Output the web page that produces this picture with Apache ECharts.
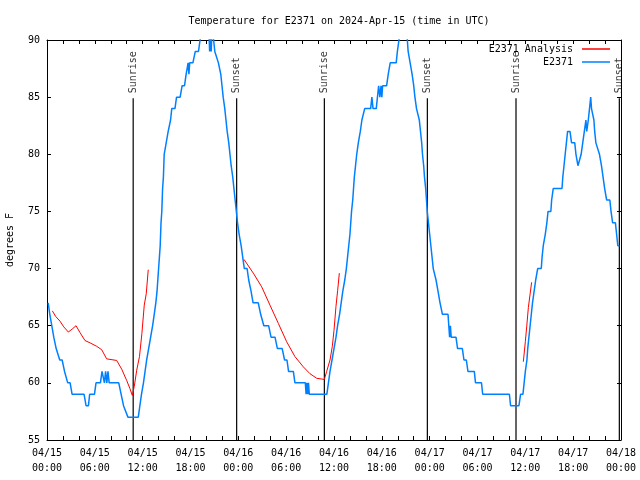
<!DOCTYPE html>
<html><head><meta charset="utf-8">
<script src="https://cdn.jsdelivr.net/npm/echarts@6/dist/echarts.min.js"></script>
<style>html,body{margin:0;padding:0;background:#fff}#c{width:640px;height:480px}</style>
</head><body><div id="c"></div>
<script>
const chartTitle = 'Temperature for E2371 on 2024-Apr-15 (time in UTC)';
const yAxisTitle = 'degrees F';
const startMonth = '04';
const startDay = 15;
const xMin = 0, xMax = 72, xTickStep = 2, xLabelStep = 6;
const yMin = 55, yMax = 90, yTickStep = 5;

// hours since 04/15 00:00 UTC, temperature (F)
const obsName = 'E2371';
const obsData = [
 [0.15,67],[0.35,66],[0.6,65],[0.85,64],[1.15,63],[1.4,63],[1.6,62],[1.9,62],[2.2,61],[2.4,61],[2.6,60],[2.9,60],[3.15,59],
 [4.65,59],[4.9,58],[5.2,58],[5.35,59],[5.95,59],[6.15,60],[6.7,60],[6.9,61],[7.1,61],[7.2,60],[7.35,61],[7.5,60],[7.65,61],[7.8,60],
 [9.0,60],[9.3,59],[9.6,58],[10.15,57],[11.45,57],
 [11.65,58],[11.85,59],[12.1,60],[12.3,61],[12.5,62],[12.75,63],[13.0,64],[13.25,65],[13.45,66],[13.65,67],[13.8,68],[13.9,69],
 [14.0,70],[14.1,71],[14.2,72],[14.3,74],[14.4,75],[14.5,77],[14.6,78],[14.7,80],[14.95,81],[15.2,82],[15.5,83],[15.65,84],[16.05,84],
 [16.25,85],[16.7,85],[16.95,86],[17.25,86],[17.45,87],[17.7,88],[17.8,87],[17.9,88],[18.3,88],[18.6,89],[19.0,89],[19.2,90],[19.4,91],
 [20.3,91],[20.4,89],[20.5,91],[20.6,89],[20.7,91],[20.9,90],[21.05,89],[21.3,89],[21.5,88],[21.7,88],[21.8,87],[21.95,86],[22.1,85],
 [22.3,84],[22.45,83],[22.6,82],[22.8,81],[22.95,80],[23.1,79],[23.3,78],[23.45,77],[23.6,76],[23.75,75],[23.9,74],[24.1,73],[24.35,72],
 [24.55,71],[24.75,70],[25.1,70],[25.3,69],[25.6,68],[25.85,67],[26.5,67],[26.8,66],[27.2,65],[27.8,65],[28.1,64],[28.6,64],[28.9,63],
 [29.5,63],[29.8,62],[30.1,62],[30.3,61],[30.9,61],[31.1,60],[32.4,60],[32.5,59],[32.6,60],[32.7,59],[32.8,60],[32.9,59],[35.1,59],
 [35.3,60],[35.5,61],[35.75,62],[36.0,63],[36.25,64],[36.45,65],[36.7,66],[36.9,67],[37.1,68],[37.35,69],[37.55,70],[37.7,71],[37.85,72],
 [38.0,73],[38.1,74],[38.2,75],[38.35,76],[38.45,77],[38.55,78],[38.7,79],[38.85,80],[39.05,81],[39.3,82],[39.5,83],[39.85,84],[40.6,84],
 [40.75,85],[40.9,84],[41.3,84],[41.45,85],[41.6,86],[41.75,85],[41.9,86],[42.0,85],[42.1,86],[42.6,86],[42.8,87],[43.05,88],[43.8,88],
 [43.95,89],[44.15,90],[44.3,91],[45.1,91],[45.3,89],[45.55,88],[45.8,87],[46.0,86],[46.15,85],[46.35,84],[46.6,84],[46.7,83],[46.85,82],
 [47.0,81],[47.1,80],[47.25,79],[47.35,78],[47.5,77],[47.6,76],[47.7,75],[47.85,74],[48.0,73],[48.15,72],[48.3,71],[48.45,70],[48.65,70],
 [48.8,69],[49.05,68],[49.3,67],[49.6,66],[50.3,66],[50.4,65],[50.5,64],[50.6,65],[50.7,64],[51.3,64],[51.5,63],[52.1,63],[52.3,62],
 [52.6,62],[52.8,61],[53.6,61],[53.75,60],[54.5,60],[54.65,59],[58.0,59],[58.15,58],[59.2,58],[59.4,59],[59.7,59],[59.85,60],[60.0,61],
 [60.2,62],[60.3,63],[60.45,64],[60.6,65],[60.75,66],[60.9,67],[61.1,68],[61.3,69],[61.55,70],[62.0,70],[62.1,71],[62.25,72],[62.5,73],
 [62.7,74],[62.85,75],[63.2,75],[63.3,76],[63.5,77],[64.6,77],[64.7,78],[64.85,79],[65.0,80],[65.15,81],[65.3,82],[65.6,82],[65.8,81],
 [66.2,81],[66.35,80],[66.6,79],[66.8,79],[67.0,80],[67.2,81],[67.4,82],[67.6,83],[67.7,82],[67.9,83],[68.05,84],[68.2,85],[68.3,84],
 [68.45,84],[68.6,83],[68.7,82],[68.85,81],[69.1,81],[69.3,80],[69.55,79],[69.75,78],[69.95,77],[70.2,76],[70.6,76],[70.75,75],[70.95,74],
 [71.3,74],[71.45,73],[71.6,72],[71.8,72]
];

const analysisName = 'E2371 Analysis';
const analysisSeg1 = [
 [0.67,66.3],[1.1,65.8],[1.63,65.4],[2.1,64.9],[2.68,64.45],[3.15,64.7],[3.64,65.0],[4.14,64.4],[4.77,63.7],[5.4,63.5],[6.23,63.2],
 [6.86,62.9],[7.48,62.1],[7.7,62.0],[8.74,61.96],[9.37,61.2],[10.0,60.2],[10.4,59.5],[10.7,58.9],
 [10.95,59.7],[11.25,61.1],[11.6,62.3],[11.9,64.3],[12.2,66.8],[12.45,67.8],[12.7,69.9]
];
const analysisSeg2 = [
 [24.71,70.8],[25.88,69.6],[26.93,68.4],[27.97,66.8],[29.02,65.2],[30.06,63.6],[31.1,62.3],[32.15,61.4],[32.99,60.8],[33.83,60.4],
 [34.79,60.3],[35.08,61.0],[35.5,62.0],[35.79,63.2],[36.0,64.6],[36.25,66.7],[36.46,68.1],[36.67,69.6]
];
const analysisSeg3 = [
 [59.75,61.85],[60.0,63.6],[60.17,64.9],[60.38,66.6],[60.79,68.8]
];

const sunHours = [10.81, 23.79, 34.79, 47.71, 58.83, 71.79];
const sunNames = ['Sunrise', 'Sunset', 'Sunrise', 'Sunset', 'Sunrise', 'Sunset'];
const sunLineTop = 84.9;

const FONT = 'DejaVu Sans Mono';
const pad2 = n => (n < 10 ? '0' : '') + n;

const analysisData = [].concat(analysisSeg1, [[13, null]], analysisSeg2, [[37, null]], analysisSeg3);
const sunLineData = [];
sunHours.forEach(h => { sunLineData.push([h, yMin], [h, sunLineTop], [h, null]); });
const sunLabelData = sunHours.map((h, i) => ({ value: [h, sunLineTop], name: sunNames[i] }));

function xLabel(v) {
  if (Math.round(v) % xLabelStep !== 0) return '';
  const day = startDay + Math.floor(v / 24);
  return startMonth + '/' + day + '\n' + pad2(Math.round(v) % 24) + ':00';
}

const axisCommon = {
  min: xMin, max: xMax, interval: xTickStep, type: 'value',
  axisLine: { show: true, onZero: false, lineStyle: { color: '#000', width: 1 } },
  axisTick: { show: true, inside: true, length: 4, lineStyle: { color: '#000' } },
  splitLine: { show: false }
};

const chart = echarts.init(document.getElementById('c'), null, { renderer: 'canvas' });
chart.setOption({
  animation: false,
  backgroundColor: '#fff',
  textStyle: { fontFamily: FONT },
  title: {
    text: chartTitle, left: 334, top: 11, textAlign: 'center',
    textStyle: { fontFamily: FONT, fontSize: 10, fontWeight: 'normal', color: '#000' }
  },
  legend: {
    data: [{ name: analysisName, icon: 'rect' }, { name: obsName, icon: 'rect' }],
    orient: 'vertical', align: 'right', right: 30, top: 44, padding: 0,
    itemWidth: 28, itemHeight: 1.5, itemGap: 3,
    textStyle: { fontFamily: FONT, fontSize: 10, color: '#000', padding: [0, 4, 0, 0] }
  },
  grid: { left: 47, right: 19, top: 40, bottom: 40, containLabel: false, outerBoundsMode: 'none' },
  xAxis: [
    Object.assign({}, axisCommon, {
      position: 'bottom',
      axisLabel: { formatter: xLabel, fontFamily: FONT, fontSize: 10, color: '#000', lineHeight: 15, margin: 6 }
    }),
    Object.assign({}, axisCommon, { position: 'top', axisLabel: { show: false } })
  ],
  yAxis: [
    {
      type: 'value', min: yMin, max: yMax, interval: yTickStep, position: 'left',
      name: yAxisTitle, nameLocation: 'middle', nameGap: 32, nameRotate: 90,
      nameTextStyle: { fontFamily: FONT, fontSize: 10, color: '#000' },
      axisLine: { show: true, onZero: false, lineStyle: { color: '#000', width: 1 } },
      axisTick: { show: true, inside: true, length: 4, lineStyle: { color: '#000' } },
      axisLabel: { fontFamily: FONT, fontSize: 10, color: '#000', margin: 7 },
      splitLine: { show: false }
    },
    {
      type: 'value', min: yMin, max: yMax, interval: yTickStep, position: 'right',
      axisLine: { show: true, onZero: false, lineStyle: { color: '#000', width: 1 } },
      axisTick: { show: true, inside: true, length: 4, lineStyle: { color: '#000' } },
      axisLabel: { show: false },
      splitLine: { show: false }
    }
  ],
  series: [
    {
      name: 'sun', type: 'line', data: sunLineData, showSymbol: false, symbol: 'none',
      lineStyle: { color: '#000', width: 1.2 }, itemStyle: { color: '#000' },
      connectNulls: false, silent: true, z: 1
    },
    {
      name: 'sunLabels', type: 'scatter', data: sunLabelData, symbolSize: 0, silent: true, z: 3,
      label: {
        show: true, formatter: p => p.name, position: 'top', distance: 5, rotate: 90,
        align: 'left', verticalAlign: 'middle', fontFamily: FONT, fontSize: 10, color: '#000'
      }
    },
    {
      name: analysisName, type: 'line', data: analysisData, showSymbol: false, symbol: 'none',
      color: '#ff0000', lineStyle: { color: '#ff0000', width: 1 }, connectNulls: false, z: 4
    },
    {
      name: obsName, type: 'line', data: obsData, showSymbol: false, symbol: 'none',
      color: '#0080ff', lineStyle: { color: '#0080ff', width: 1.5 }, z: 5
    }
  ]
});
</script></body></html>
